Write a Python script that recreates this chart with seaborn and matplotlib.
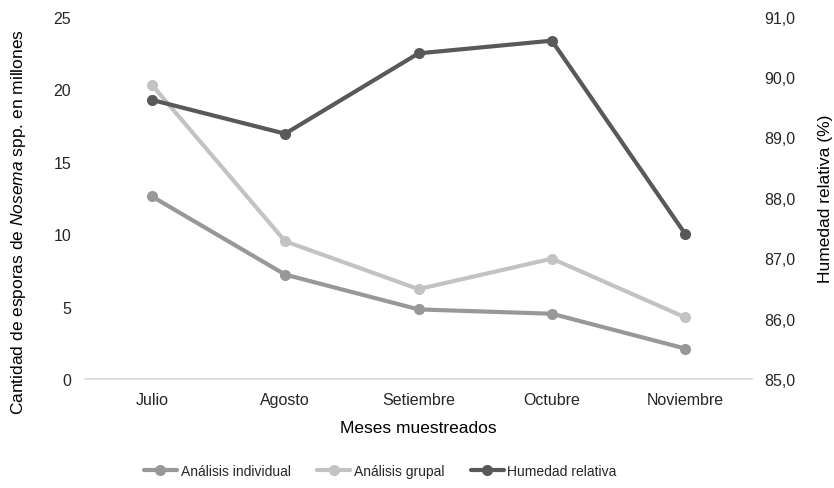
import pandas as pd
import matplotlib.pyplot as plt
import seaborn as sns
from matplotlib.ticker import FuncFormatter

# --- Datos ---
meses = ['Julio', 'Agosto', 'Setiembre', 'Octubre', 'Noviembre']
individual = [12.6, 7.2, 4.8, 4.5, 2.1]
grupal = [20.3, 9.5, 6.2, 8.3, 4.25]
humedad = [89.62, 89.06, 90.39, 90.60, 87.40]

df = pd.DataFrame({'Mes': meses, 'Individual': individual,
                   'Grupal': grupal, 'Humedad': humedad})

sns.set_theme(style="white")
plt.rcParams['font.family'] = ['Liberation Sans', 'DejaVu Sans']
plt.rcParams['mathtext.fontset'] = 'custom'
plt.rcParams['mathtext.rm'] = 'Liberation Sans'
plt.rcParams['mathtext.it'] = 'Liberation Sans:italic'

c_ind, c_grp, c_hum = '#989898', '#c3c3c3', '#595959'
texto = '#262626'

fig = plt.figure(figsize=(8.34, 4.89), dpi=100)
ax = fig.add_axes([0.102, 0.2229, 0.7996, 0.7413])
ax2 = ax.twinx()

sns.lineplot(data=df, x='Mes', y='Individual', ax=ax, color=c_ind, marker='o',
             markersize=8, linewidth=3, markeredgewidth=0, sort=False,
             label='Análisis individual', legend=False)
sns.lineplot(data=df, x='Mes', y='Grupal', ax=ax, color=c_grp, marker='o',
             markersize=8, linewidth=3, markeredgewidth=0, sort=False,
             label='Análisis grupal', legend=False)
sns.lineplot(data=df, x='Mes', y='Humedad', ax=ax2, color=c_hum, marker='o',
             markersize=8, linewidth=3, markeredgewidth=0, sort=False,
             label='Humedad relativa', legend=False)

ax.set_xlim(-0.5, 4.5)
ax.set_ylim(0, 25)
ax.set_yticks([0, 5, 10, 15, 20, 25])
ax2.set_ylim(85, 91)
ax2.set_yticks([85, 86, 87, 88, 89, 90, 91])
ax2.yaxis.set_major_formatter(FuncFormatter(lambda v, p: f'{v:.1f}'.replace('.', ',')))

for a in (ax, ax2):
    for s in a.spines.values():
        s.set_visible(False)
    a.tick_params(length=0, labelsize=11.5, labelcolor=texto)
ax.spines['bottom'].set_visible(True)
ax.spines['bottom'].set_color('#d9d9d9')
ax.tick_params(axis='y', pad=10)
ax.tick_params(axis='x', pad=9)
ax2.tick_params(axis='y', pad=9)

ax.set_xlabel('Meses muestreados', fontsize=12.5, color='black', labelpad=10)
ax.set_ylabel(r'Cantidad de esporas de $\it{Nosema}$ spp. en millones',
              fontsize=12.5, color='black')
ax.yaxis.set_label_coords(-0.086, 0.437)
ax2.set_ylabel('Humedad relativa (%)', fontsize=12.5, color='black', labelpad=16)

h1, l1 = ax.get_legend_handles_labels()
h2, l2 = ax2.get_legend_handles_labels()
fig.legend(h1 + h2, l1 + l2, loc='center', bbox_to_anchor=(0.456, 0.035), ncol=3,
           frameon=False, fontsize=10, handlelength=2.4, columnspacing=1.9,
           handletextpad=0.25)

fig.savefig('out.png', dpi=100)
